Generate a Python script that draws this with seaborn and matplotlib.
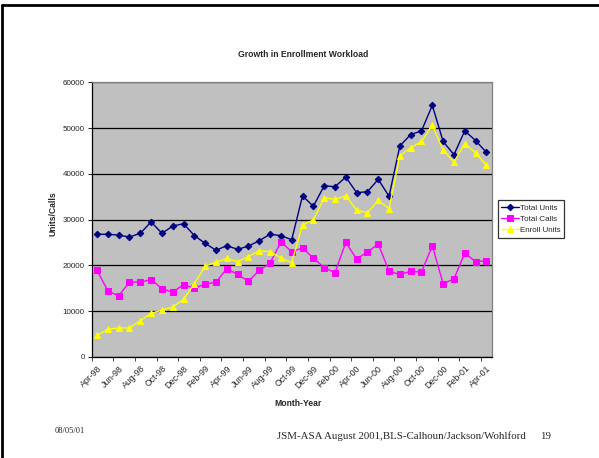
import numpy as np
import pandas as pd
import matplotlib
matplotlib.use("Agg")
from matplotlib import pyplot as plt
from matplotlib.lines import Line2D
import seaborn as sns

# Monthly data Apr-98 .. Apr-01 ~~~~~~~~~~~~~~~~~~~~~~~~~~~~~~~~~~~~~~~~~~~~~
months = ['Apr-98', 'May-98', 'Jun-98', 'Jul-98', 'Aug-98', 'Sep-98', 'Oct-98', 'Nov-98', 'Dec-98',
          'Jan-99', 'Feb-99', 'Mar-99', 'Apr-99', 'May-99', 'Jun-99', 'Jul-99', 'Aug-99', 'Sep-99',
          'Oct-99', 'Nov-99', 'Dec-99', 'Jan-00', 'Feb-00', 'Mar-00', 'Apr-00', 'May-00', 'Jun-00',
          'Jul-00', 'Aug-00', 'Sep-00', 'Oct-00', 'Nov-00', 'Dec-00', 'Jan-01', 'Feb-01', 'Mar-01',
          'Apr-01']

total_units = [26800, 26800, 26600, 26200, 27000, 29500, 27000, 28600, 29100,
               26500, 24800, 23300, 24300, 23500, 24200, 25400, 26800, 26500,
               25600, 35200, 32900, 37400, 37200, 39300, 35900, 36100, 38800,
               35100, 46100, 48600, 49400, 55000, 47100, 44200, 49400, 47300,
               44700]

total_calls = [18900, 14400, 13300, 16400, 16300, 16900, 14900, 14100, 15800,
               15000, 15900, 16300, 19300, 18000, 16500, 18900, 20500, 25100,
               23000, 23800, 21600, 19500, 18400, 25000, 21400, 22900, 24700,
               18700, 18000, 18700, 18500, 24300, 16000, 17000, 22700, 20800,
               21000]

enroll_units = [4700, 6000, 6300, 6300, 7900, 9500, 10200, 10900, 12600,
                16000, 19800, 20700, 21500, 20800, 21900, 23200, 23000, 21600,
                20600, 28900, 29900, 34800, 34400, 35200, 32100, 31500, 34200,
                32400, 44000, 45700, 47100, 50600, 45200, 42600, 46600, 44600,
                41900]

series_names = ['Total Units', 'Total Calls', 'Enroll Units']

df = pd.DataFrame({'idx': np.arange(len(months)),
                   'Total Units': total_units,
                   'Total Calls': total_calls,
                   'Enroll Units': enroll_units})

sns.set_style("white")
plt.rcParams['font.family'] = ['Liberation Sans', 'DejaVu Sans']

fig = plt.figure(figsize=(5.99, 4.58), dpi=100)
ax = fig.add_axes([0.153, 0.221, 0.668, 0.599])
ax.set_facecolor('#C0C0C0')

styles = {'Total Units': ('#000080', 'D', 3.3),
          'Total Calls': ('#FF00FF', 's', 4.3),
          'Enroll Units': ('#FFFF00', '^', 4.3)}
for name in series_names:
    col, mk, ms = styles[name]
    sns.lineplot(data=df, x='idx', y=name, ax=ax, color=col, marker=mk,
                 markersize=ms, markeredgecolor=col, linewidth=1.0, label=name)

ax.set_xlim(-0.5, len(months) - 0.5)
ax.set_ylim(0, 60000)
ax.set_yticks(np.arange(0, 60001, 10000))
ax.yaxis.grid(True, color='black', linewidth=0.9)
ax.set_axisbelow(True)
ax.tick_params(axis='y', labelsize=5.8, length=3, direction='out', left=True, pad=2)

# category labels every 2nd month, tick marks between categories
ax.set_xticks(np.arange(0, len(months), 2))
ax.set_xticklabels(months[::2], rotation=45, ha='right', rotation_mode='anchor', fontsize=6.3)
ax.tick_params(axis='x', which='major', length=0, pad=5)
ax.set_xticks(np.arange(-0.5, len(months), 2), minor=True)
ax.tick_params(axis='x', which='minor', length=3, direction='out', bottom=True)

for s in ['top', 'right']:
    ax.spines[s].set_color('#808080')
    ax.spines[s].set_linewidth(0.9)
for s in ['left', 'bottom']:
    ax.spines[s].set_color('black')
    ax.spines[s].set_linewidth(0.9)

ax.set_xlabel('Month-Year', fontsize=6.2, fontweight='bold')
ax.xaxis.set_label_coords(0.515, -0.155)
ax.set_ylabel('Units/Calls', fontsize=6.2, fontweight='bold')
ax.yaxis.set_label_coords(-0.085, 0.52)
fig.text(0.506, 0.882, 'Growth in Enrollment Workload', fontsize=6.2, fontweight='bold',
         ha='center', va='center')

leg = ax.legend(loc='upper left', bbox_to_anchor=(1.015, 0.57), fontsize=5.8, frameon=True,
                fancybox=False, edgecolor='black', handlelength=2.2, borderpad=0.45,
                labelspacing=0.45, handletextpad=0.1, borderaxespad=0)
leg.get_frame().set_linewidth(0.9)

# page frame and footer
fig.add_artist(Line2D([0.004, 0.004], [0, 0.988], color='black', linewidth=2.0))
fig.add_artist(Line2D([0.004, 1.0], [0.988, 0.988], color='black', linewidth=2.0))
fig.text(0.092, 0.054, '08/05/01', fontsize=6.0, family='Liberation Serif')
fig.text(0.462, 0.042, 'JSM-ASA August 2001,BLS-Calhoun/Jackson/Wohlford', fontsize=7.8,
         family='Liberation Serif')
fig.text(0.902, 0.042, '19', fontsize=7.8, family='Liberation Serif')

fig.savefig('out.png', dpi=100, facecolor='white')
